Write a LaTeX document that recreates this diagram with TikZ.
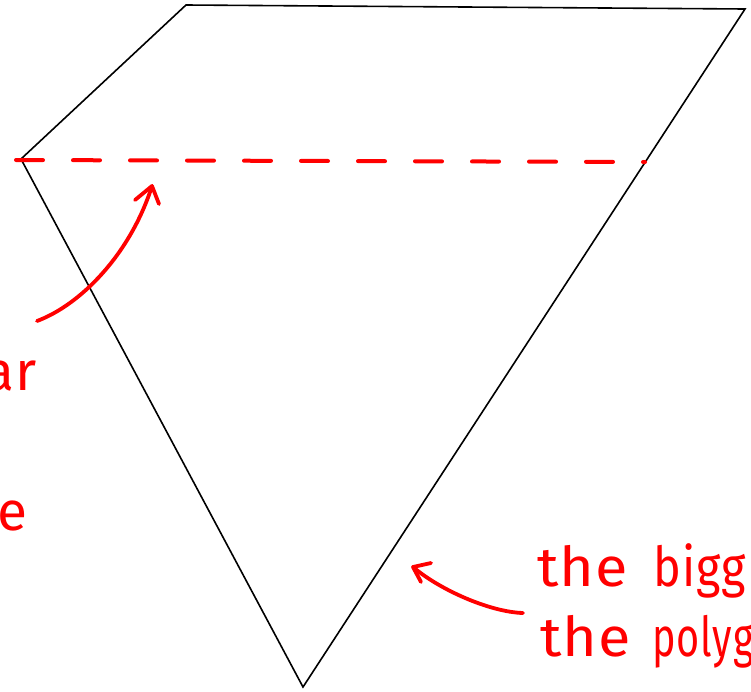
\documentclass[tikz,border=0pt]{standalone}
\usepackage{fontspec}
\setmainfont{Fira Sans}[LetterSpace=1.5]
\newcommand{\widew}[1]{{\addfontfeature{FakeStretch=1.08}#1}}
\newcommand{\narroww}[2]{{\addfontfeature{FakeStretch=#1}#2}}
\begin{document}
\begin{tikzpicture}[x=1pt,y=-1pt,
  polyline/.style={draw=black,line width=1.6pt,line join=miter},
  redline/.style={draw=red,line width=4pt,line cap=round},
  redarrow/.style={draw=red,line width=3.8pt,line cap=round,line join=round},
  hand/.style={text=red,inner sep=0pt,font=\fontsize{55}{66}\selectfont}]
\useasboundingbox (0,0) rectangle (751,691);
\coordinate (p1) at (186,5);
\coordinate (p2) at (745,9);
\coordinate (p3) at (303,687);
\coordinate (p4) at (21,159);
\draw[polyline] (p1) -- (p2) -- (p3) -- (p4) -- cycle;
\coordinate (d1) at (16,160);
\coordinate (d2) at (645,162);
\draw[redline,dash pattern=on 27pt off 30pt] (d1) -- (d2);
% arrow 1
\coordinate (a1s) at (37,321);
\coordinate (a1t) at (152,186);
\coordinate (a1l) at (135,200);
\coordinate (a1r) at (159,204);
\draw[redarrow] (a1s) .. controls (80,305) and (130,255) .. (a1t);
\draw[redarrow] (a1l) -- (a1t) -- (a1r);
% arrow 2
\coordinate (a2s) at (523,613);
\coordinate (a2t) at (413,567);
\coordinate (a2l) at (431,563);
\coordinate (a2r) at (421,582);
\draw[redarrow] (a2s) .. controls (490,612) and (440,590) .. (a2t);
\draw[redarrow] (a2l) -- (a2t) -- (a2r);
% texts
\node[hand,anchor=base west] (t1) at (537,586) {\widew{the}\hspace{26pt}\narroww{0.85}{bigg}};
\node[hand,anchor=base west] (t2) at (540,656) {\widew{the}\hspace{22pt}\narroww{0.72}{polyg}};
\node[hand,anchor=base east] (t3) at (37,390) {ar};
\node[hand,anchor=base east] (t4) at (28,530) {e};
\end{tikzpicture}
\end{document}
